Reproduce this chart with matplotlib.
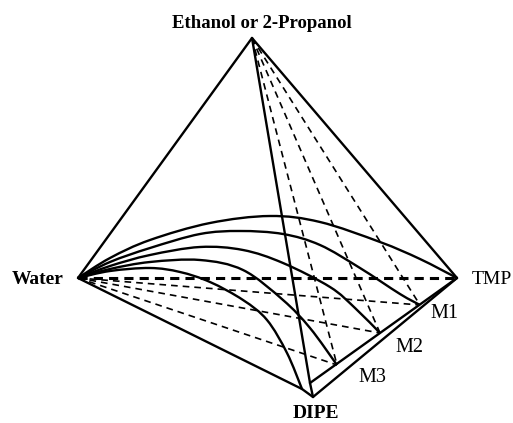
import numpy as np
import matplotlib
matplotlib.use("Agg")
import matplotlib.pyplot as plt
from matplotlib.path import Path
from matplotlib.patches import PathPatch

# ---- diagram data (pixel coordinates) ----
vertex_names = ["Ethanol or 2-Propanol", "Water", "TMP", "DIPE"]
top = (252, 38)
water = (78, 278)
tmp = (457, 278)
dipe = (313, 397)
d1 = (302, 389)      # end of Water-DIPE edge
d2 = (310, 383)      # end of top edge / start of inner mixture line
mix_names = ["M1", "M2", "M3"]
mix_x = [420, 380, 337]
mix_y = [305, 333, 365]

curve1_x = [78, 110, 150, 210, 270, 320, 380, 420, 457]
curve1_y = [278, 258, 240, 223, 216, 222, 242, 259, 278]
curve2_x = [78, 110, 150, 200, 240, 283, 320, 360, 400, 420]
curve2_y = [278, 262, 248, 234, 231, 234, 245, 268, 294, 305]
curve3_x = [78, 110, 150, 200, 243, 283, 330, 355, 380]
curve3_y = [278, 266, 255, 247, 250, 263, 287, 308, 333]
curve4_x = [78, 110, 150, 200, 243, 283, 310, 337]
curve4_y = [278, 269, 262, 260, 270, 300, 328, 365]
curve5_x = [78, 110, 150, 180, 210, 243, 267, 287, 302]
curve5_y = [278, 271, 268, 272, 282, 300, 320, 353, 389]
curves = [(curve1_x, curve1_y), (curve2_x, curve2_y), (curve3_x, curve3_y),
          (curve4_x, curve4_y), (curve5_x, curve5_y)]

fig = plt.figure(figsize=(5.13, 4.23), dpi=100)
ax = fig.add_axes([0, 0, 1, 1])
ax.set_xlim(0, 513)
ax.set_ylim(423, 0)
ax.axis("off")

LW = 1.7
def seg(p, q, **kw):
    ax.plot([p[0], q[0]], [p[1], q[1]], color="black", solid_capstyle="round", **kw)

def smooth(xs, ys):
    p = np.column_stack([xs, ys]).astype(float)
    n = len(p)
    verts = [p[0]]
    codes = [Path.MOVETO]
    for i in range(n - 1):
        pp = p[i - 1] if i > 0 else p[i]
        pn = p[i + 2] if i + 2 < n else p[i + 1]
        c1 = p[i] + (p[i + 1] - pp) / 6.0
        c2 = p[i + 1] - (pn - p[i]) / 6.0
        verts += [c1, c2, p[i + 1]]
        codes += [Path.CURVE4] * 3
    return Path(verts, codes)

# solid edges
seg(top, water, lw=LW)
seg(top, tmp, lw=LW)
seg(water, d1, lw=LW)
seg(top, d2, lw=LW)
seg(d2, tmp, lw=LW)
seg(dipe, tmp, lw=LW)
seg(d1, dipe, lw=LW)
seg(d2, dipe, lw=LW)

# dashed lines
seg(water, tmp, lw=2.2, linestyle=(0, (3.0, 2.0)))
for mx, my in zip(mix_x, mix_y):
    seg(water, (mx, my), lw=1.2, linestyle=(0, (4.0, 3.0)))
    seg(top, (mx, my), lw=1.2, linestyle=(0, (4.0, 3.0)))

# binodal curves
for cx, cy in curves:
    ax.add_patch(PathPatch(smooth(cx, cy), facecolor="none", edgecolor="black", lw=LW))

serif = "Liberation Serif"
ax.text(262, 23, vertex_names[0], ha="center", va="center", fontsize=13.5,
        fontweight="bold", family=serif)
ax.text(38, 279, vertex_names[1], ha="center", va="center", fontsize=14,
        fontweight="bold", family=serif)
ax.text(472, 279, vertex_names[2], ha="left", va="center", fontsize=14, family=serif)
ax.text(316, 414, vertex_names[3], ha="center", va="center", fontsize=14,
        fontweight="bold", family=serif)
lab_x = [430, 395, 358]
lab_y = [314, 347, 377]
for name, lx, ly in zip(mix_names, lab_x, lab_y):
    ax.text(lx, ly, name, ha="left", va="center", fontsize=14.5, family=serif)

fig.savefig("out.png", dpi=100)
